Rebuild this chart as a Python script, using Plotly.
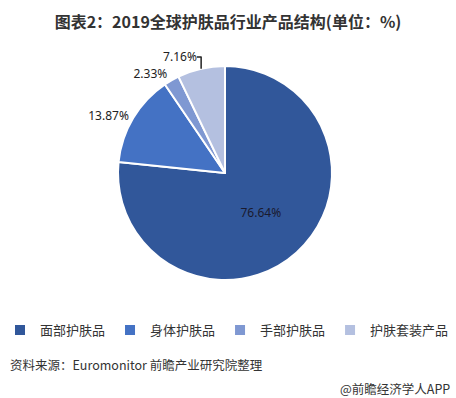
import plotly.graph_objects as go

categories = ["面部护肤品", "身体护肤品", "手部护肤品", "护肤套装产品"]
values = [76.64, 13.87, 2.33, 7.16]
colors = ["#31579A", "#4472C4", "#7F98D2", "#B4C0E0"]
text_positions = ["inside", "outside", "outside", "outside"]

W, H = 456, 398
cx, cy, r = 225, 173, 107

fig = go.Figure(go.Pie(
    labels=categories,
    values=values,
    sort=False,
    direction="clockwise",
    rotation=0,
    marker=dict(colors=colors, line=dict(color="white", width=2)),
    texttemplate="%{value:.2f}%",
    textposition=text_positions,
    insidetextorientation="horizontal",
    textfont=dict(family="Noto Sans, DejaVu Sans", size=12, color="#1a1a2e"),
    outsidetextfont=dict(family="Noto Sans, DejaVu Sans", size=12, color="#222222"),
    hole=0,
    domain=dict(x=[(cx - r) / W, (cx + r) / W], y=[(H - cy - r) / H, (H - cy + r) / H]),
))

fig.update_layout(
    width=W, height=H,
    margin=dict(l=0, r=0, t=0, b=0),
    paper_bgcolor="white",
    showlegend=True,
    legend=dict(
        orientation="h", x=0.0, xanchor="left", y=1 - 330 / H, yanchor="middle",
        font=dict(family="Noto Sans CJK SC", size=13, color="#333333"),
        itemwidth=30,
        traceorder="normal",
    ),
    title=dict(
        text="<b>图表2：2019全球护肤品行业产品结构(单位：%)</b>",
        x=0.5, xanchor="center", y=1 - 22 / H, yanchor="middle",
        font=dict(family="Noto Sans CJK SC", size=16, color="#333333"),
    ),
    annotations=[
        dict(text="资料来源：Euromonitor 前瞻产业研究院整理", x=8 / W, y=1 - 364 / H,
             xref="paper", yref="paper", xanchor="left", yanchor="middle", showarrow=False,
             font=dict(family="Noto Sans CJK SC", size=12.5, color="#333333")),
        dict(text="@前瞻经济学人APP", x=452 / W, y=1 - 388 / H,
             xref="paper", yref="paper", xanchor="right", yanchor="middle", showarrow=False,
             font=dict(family="Noto Sans CJK SC", size=12.5, color="#333333")),
    ],
)

fig.write_html(
    "out.html",
    config={"displayModeBar": False},
    post_script="document.body.style.margin='0';document.body.style.overflow='hidden';",
)
